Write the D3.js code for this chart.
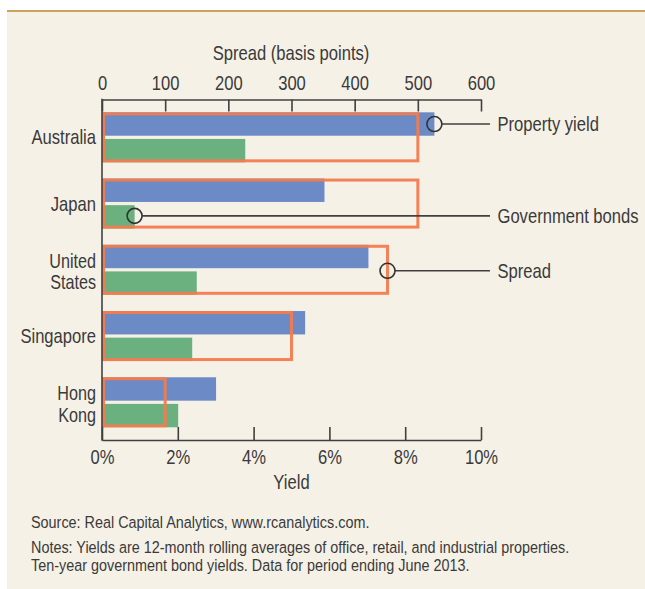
<!DOCTYPE html>
<html>
<head>
<meta charset="utf-8">
<script src="https://cdn.jsdelivr.net/npm/d3@7"></script>
<style>
  html, body { margin: 0; padding: 0; background: #ffffff; }
  svg { display: block; }
  text { font-family: "Liberation Sans", Arial, sans-serif; fill: #3a3a3a; }
</style>
</head>
<body>
<svg id="chart" width="645" height="589"></svg>
<script>
// ---- data ----
const countries = ["Australia", "Japan", "United States", "Singapore", "Hong Kong"];
const countryLines = [["Australia"], ["Japan"], ["United", "States"], ["Singapore"], ["Hong", "Kong"]];
const propertyYield = [8.77, 5.87, 7.03, 5.36, 3.01];   // %
const govBondYield = [3.78, 0.86, 2.50, 2.38, 2.01];     // %
const spreadBp = [500, 500, 452, 300, 100];              // basis points
const yieldTicks = [0, 2, 4, 6, 8, 10];
const spreadTicks = [0, 100, 200, 300, 400, 500, 600];
const notes = [
  "Source: Real Capital Analytics, www.rcanalytics.com.",
  "Notes: Yields are 12-month rolling averages of office, retail, and industrial properties.",
  "Ten-year government bond yields. Data for period ending June 2013."
];

// ---- styles ----
const C = {
  bg: "#f6f1e7", rule: "#c9a45c", blue: "#6b8ac6", green: "#6bb07f",
  orange: "#f47b4f", ink: "#3a3a3a", axis: "#404040"
};
const SX = 0.83;   // horizontal squeeze to mimic a condensed face
const fs = 20;

const svg = d3.select("#chart");

// condensed text helper
function ctext(parent, x, y, str, size, anchor, dy) {
  const gg = parent.append("g").attr("transform", `translate(${x},${y}) scale(${SX},1)`);
  return gg.append("text").attr("x", 0).attr("y", 0).attr("dy", dy || "0.35em")
    .attr("text-anchor", anchor || "start").attr("font-size", size).text(str);
}

// panel
svg.append("rect").attr("x", 7).attr("y", 11).attr("width", 638).attr("height", 578).attr("fill", C.bg);
svg.append("rect").attr("x", 7).attr("y", 10).attr("width", 638).attr("height", 2).attr("fill", C.rule);

// scales
const x = d3.scaleLinear().domain([0, 10]).range([102, 481]);
const xs = d3.scaleLinear().domain([0, 600]).range([102, 481]);
const y = d3.scaleBand().domain(countries).range([104.2, 435.4]).paddingInner(0.245).paddingOuter(0.1225);
const bw = y.bandwidth();
const barH = bw * 0.468;
const gap = bw - 2 * barH;

// bars
const g = svg.append("g");
g.selectAll("rect.prop").data(countries).join("rect")
  .attr("class", "prop")
  .attr("x", x(0)).attr("y", d => y(d))
  .attr("width", (d, i) => x(propertyYield[i]) - x(0)).attr("height", barH)
  .attr("fill", C.blue);
g.selectAll("rect.gov").data(countries).join("rect")
  .attr("class", "gov")
  .attr("x", x(0)).attr("y", d => y(d) + barH + gap)
  .attr("width", (d, i) => x(govBondYield[i]) - x(0)).attr("height", barH)
  .attr("fill", C.green);
// spread boxes
const sw = 3;
g.selectAll("rect.spread").data(countries).join("rect")
  .attr("class", "spread")
  .attr("x", xs(0) + sw / 2).attr("y", d => y(d) + sw / 2)
  .attr("width", (d, i) => xs(spreadBp[i]) - xs(0) - sw / 2).attr("height", bw - sw)
  .attr("fill", "none").attr("stroke", C.orange).attr("stroke-width", sw).attr("opacity", 0.95);

// top axis (spread)
const topY = 99.5;
const topAxis = d3.axisTop(xs).tickValues(spreadTicks).tickSizeInner(-12).tickSizeOuter(0).tickPadding(9);
const tg = svg.append("g").attr("transform", `translate(0,${topY})`).call(topAxis);
// bottom axis (yield)
const botY = 440;
const botAxis = d3.axisBottom(x).tickValues(yieldTicks).tickFormat(d => d + "%").tickSizeInner(-13).tickSizeOuter(0).tickPadding(8);
const bg = svg.append("g").attr("transform", `translate(0,${botY})`).call(botAxis);
[tg, bg].forEach(a => {
  a.selectAll("path.domain").attr("stroke", C.axis).attr("stroke-width", 1.6);
  a.selectAll(".tick line").attr("stroke", C.axis).attr("stroke-width", 1.6);
  a.selectAll(".tick text").attr("font-size", fs).attr("font-family", null).attr("fill", C.ink)
    .attr("transform", `scale(${SX},1)`);
});
tg.selectAll(".tick text").attr("y", -9.5).attr("dy", "0em");
bg.selectAll(".tick text").attr("y", 8).attr("dy", "0.78em");
// left axis line
svg.append("line").attr("x1", x(0)).attr("x2", x(0)).attr("y1", topY - 0.8).attr("y2", botY + 0.8)
  .attr("stroke", C.axis).attr("stroke-width", 1.6);

// axis titles
ctext(svg, 291, 53, "Spread (basis points)", fs, "middle");
ctext(svg, 291.5, 481.5, "Yield", fs, "middle");

// category labels
const lineH = 21.4;
countries.forEach((c, i) => {
  const lines = countryLines[i];
  const cy = y(c) + bw / 2 + (lines.length > 1 ? 2 : 0);
  lines.forEach((ln, j) => {
    ctext(svg, 96, cy + (j - (lines.length - 1) / 2) * lineH, ln, lines.length > 1 ? 19.5 : fs, "end");
  });
});

// annotations
const r = 7.5, lineEnd = 490, labelX = 497.5;
const ann = [
  { cx: x(propertyYield[0]), cy: y(countries[0]) + barH / 2, label: "Property yield" },
  { cx: x(govBondYield[1]), cy: y(countries[1]) + barH + gap + barH / 2 - 1, label: "Government bonds" },
  { cx: xs(spreadBp[2]), cy: y(countries[2]) + bw / 2 + 1, label: "Spread" }
];
ann.forEach(a => {
  svg.append("line").attr("x1", a.cx + r).attr("x2", lineEnd).attr("y1", a.cy).attr("y2", a.cy)
    .attr("stroke", C.axis).attr("stroke-width", 1.6);
  svg.append("circle").attr("cx", a.cx).attr("cy", a.cy).attr("r", r)
    .attr("fill", "none").attr("stroke", "#333").attr("stroke-width", 1.6);
  ctext(svg, labelX, a.cy, a.label, fs, "start");
});

// notes
ctext(svg, 31, 527.5, notes[0], 17.35, "start", "0em");
ctext(svg, 31, 553, notes[1], 17.35, "start", "0em");
ctext(svg, 31, 571, notes[2], 17.35, "start", "0em");
</script>
</body>
</html>
